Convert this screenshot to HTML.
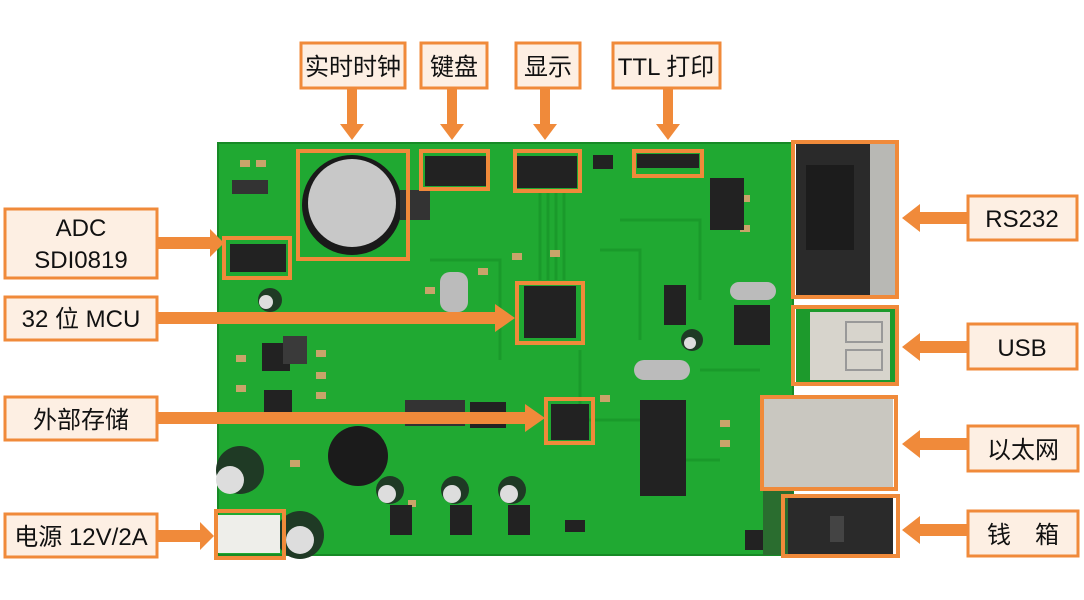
<!DOCTYPE html>
<html><head><meta charset="utf-8"><style>
html,body{margin:0;padding:0;background:#fff;}
svg{display:block}
text{font-family:"Liberation Sans","Noto Sans CJK SC",sans-serif;fill:#111;}
</style></head><body>
<svg width="1084" height="600" viewBox="0 0 1084 600" xmlns="http://www.w3.org/2000/svg">
<rect x="218" y="143" width="575" height="412" fill="#20a932"/>
<rect x="218" y="143" width="575" height="412" fill="none" stroke="#178a26" stroke-width="2"/>
<g stroke="#1a9a2b" stroke-width="3" fill="none">
<path d="M540 190 L540 280 M548 190 L548 280 M556 190 L556 280 M564 190 L564 280"/>
<path d="M620 220 L700 220 L700 300 M600 250 L640 250 L640 340"/>
<path d="M430 260 L500 260 L500 360 M580 350 L580 420 L660 420"/>
<path d="M700 370 L760 370 M650 460 L720 460"/>
</g>
<g fill="#c9a46a">
<rect x="240" y="160" width="10" height="7"/><rect x="256" y="160" width="10" height="7"/>
<rect x="512" y="253" width="10" height="7"/><rect x="550" y="250" width="10" height="7"/>
<rect x="316" y="350" width="10" height="7"/><rect x="316" y="372" width="10" height="7"/>
<rect x="316" y="392" width="10" height="7"/><rect x="236" y="355" width="10" height="7"/>
<rect x="236" y="385" width="10" height="7"/><rect x="425" y="287" width="10" height="7"/>
<rect x="740" y="195" width="10" height="7"/><rect x="740" y="225" width="10" height="7"/>
<rect x="720" y="420" width="10" height="7"/><rect x="720" y="440" width="10" height="7"/>
<rect x="600" y="395" width="10" height="7"/><rect x="478" y="268" width="10" height="7"/>
<rect x="290" y="460" width="10" height="7"/><rect x="408" y="500" width="8" height="7"/>
</g>
<g fill="#222">
<circle cx="352" cy="205" r="50" fill="#1a1a1a"/>
<circle cx="352" cy="203" r="44" fill="#c8c8c8"/>
<rect x="400" y="190" width="30" height="30" fill="#333"/>
<rect x="232" y="180" width="36" height="14" fill="#333"/>
<rect x="425" y="156" width="62" height="30"/>
<rect x="517" y="156" width="60" height="32"/>
<rect x="593" y="155" width="20" height="14"/>
<rect x="637" y="154" width="62" height="14"/>
<rect x="230" y="244" width="56" height="28"/>
<rect x="524" y="286" width="52" height="52"/>
<rect x="551" y="404" width="38" height="36"/>
<rect x="710" y="178" width="34" height="52"/>
<rect x="734" y="305" width="36" height="40"/>
<rect x="640" y="400" width="46" height="96"/>
<rect x="470" y="402" width="36" height="26"/>
<rect x="262" y="343" width="28" height="28"/>
<rect x="283" y="336" width="24" height="28" fill="#3a3a3a"/>
<rect x="264" y="390" width="28" height="24"/>
<rect x="405" y="400" width="60" height="26" fill="#333"/>
<rect x="664" y="285" width="22" height="40"/>
<circle cx="358" cy="456" r="30" fill="#1b1b1b"/>
<circle cx="240" cy="470" r="24" fill="#1f3a25"/>
<circle cx="230" cy="480" r="14" fill="#ddd"/>
<circle cx="300" cy="535" r="24" fill="#1f3a25"/>
<circle cx="300" cy="540" r="14" fill="#ddd"/>
<circle cx="390" cy="490" r="14" fill="#1f3a25"/><circle cx="387" cy="494" r="9" fill="#ddd"/>
<circle cx="455" cy="490" r="14" fill="#1f3a25"/><circle cx="452" cy="494" r="9" fill="#ddd"/>
<circle cx="512" cy="490" r="14" fill="#1f3a25"/><circle cx="509" cy="494" r="9" fill="#ddd"/>
<circle cx="270" cy="300" r="12" fill="#1f3a25"/><circle cx="266" cy="302" r="7" fill="#ddd"/>
<circle cx="692" cy="340" r="11" fill="#1f3a25"/><circle cx="690" cy="343" r="6" fill="#ddd"/>
<rect x="390" y="505" width="22" height="30"/>
<rect x="450" y="505" width="22" height="30"/>
<rect x="508" y="505" width="22" height="30"/>
<rect x="565" y="520" width="20" height="12"/>
<rect x="745" y="530" width="40" height="20"/>
<rect x="440" y="272" width="28" height="40" rx="10" fill="#bbb"/>
<rect x="634" y="360" width="56" height="20" rx="10" fill="#bbb"/>
<rect x="730" y="282" width="46" height="18" rx="9" fill="#bbb"/>
<rect x="218" y="515" width="62" height="38" fill="#eeeeea"/>
</g>
<rect x="796" y="143" width="100" height="155" fill="#2a2a2a"/>
<rect x="806" y="165" width="48" height="85" fill="#1c1c1c"/>
<rect x="870" y="143" width="26" height="155" fill="#b8b8b4"/>
<rect x="796" y="306" width="100" height="80" fill="#1d9a2c"/>
<rect x="810" y="312" width="80" height="68" fill="#d7d4cc"/>
<rect x="846" y="322" width="36" height="20" fill="none" stroke="#999" stroke-width="2"/>
<rect x="846" y="350" width="36" height="20" fill="none" stroke="#999" stroke-width="2"/>
<rect x="763" y="398" width="130" height="90" fill="#c9c7c0"/>
<rect x="763" y="490" width="30" height="65" fill="#2a6d2f"/>
<rect x="788" y="498" width="105" height="58" fill="#2a2a2a"/>
<rect x="830" y="516" width="14" height="26" fill="#444"/>
<g fill="none" stroke="#f08a3a" stroke-width="4">
<rect x="298" y="151" width="110" height="108"/>
<rect x="421" y="151" width="67" height="38"/>
<rect x="515" y="151" width="65" height="40"/>
<rect x="634" y="151" width="68" height="25"/>
<rect x="224" y="238" width="66" height="40"/>
<rect x="517" y="283" width="66" height="60"/>
<rect x="546" y="399" width="47" height="44"/>
<rect x="216" y="511" width="68" height="47"/>
<rect x="793" y="142" width="104" height="155"/>
<rect x="793" y="307" width="104" height="77"/>
<rect x="762" y="397" width="134" height="92"/>
<rect x="783" y="496" width="115" height="60"/>
</g>
<g fill="#f08a3a">
<rect x="347" y="88" width="10" height="38"/><polygon points="340,124 364,124 352,140"/>
<rect x="447" y="88" width="10" height="38"/><polygon points="440,124 464,124 452,140"/>
<rect x="540" y="88" width="10" height="38"/><polygon points="533,124 557,124 545,140"/>
<rect x="663" y="88" width="10" height="38"/><polygon points="656,124 680,124 668,140"/>
<rect x="157" y="237" width="55" height="12"/><polygon points="210,229 210,257 224,243"/>
<rect x="157" y="312" width="340" height="12"/><polygon points="495,304 495,332 515,318"/>
<rect x="157" y="412" width="370" height="12"/><polygon points="525,404 525,432 545,418"/>
<rect x="157" y="530" width="45" height="12"/><polygon points="200,522 200,550 214,536"/>
<rect x="918" y="212" width="50" height="12"/><polygon points="920,204 920,232 902,218"/>
<rect x="918" y="341" width="50" height="12"/><polygon points="920,333 920,361 902,347"/>
<rect x="918" y="438" width="50" height="12"/><polygon points="920,430 920,458 902,444"/>
<rect x="918" y="524" width="50" height="12"/><polygon points="920,516 920,544 902,530"/>
</g>
<g fill="#fdefe3" stroke="#f08a3a" stroke-width="3">
<rect x="301" y="43" width="104" height="45"/>
<rect x="421" y="43" width="66" height="45"/>
<rect x="516" y="43" width="64" height="45"/>
<rect x="613" y="43" width="107" height="45"/>
<rect x="5" y="209" width="152" height="69"/>
<rect x="5" y="297" width="152" height="43"/>
<rect x="5" y="397" width="152" height="43"/>
<rect x="5" y="514" width="152" height="43"/>
<rect x="968" y="196" width="109" height="44"/>
<rect x="968" y="324" width="109" height="45"/>
<rect x="968" y="426" width="110" height="45"/>
<rect x="968" y="511" width="110" height="45"/>
</g>
<g font-size="24" text-anchor="middle">
<text x="353" y="75">实时时钟</text>
<text x="454" y="75">键盘</text>
<text x="548" y="75">显示</text>
<text x="666" y="75">TTL 打印</text>
<text x="81" y="236">ADC</text>
<text x="81" y="268">SDI0819</text>
<text x="81" y="327">32 位 MCU</text>
<text x="81" y="428">外部存储</text>
<text x="81" y="545">电源 12V/2A</text>
<text x="1022" y="227">RS232</text>
<text x="1022" y="356">USB</text>
<text x="1023" y="458">以太网</text>
<text x="1023" y="543">钱　箱</text>
</g>
</svg>
</body></html>
